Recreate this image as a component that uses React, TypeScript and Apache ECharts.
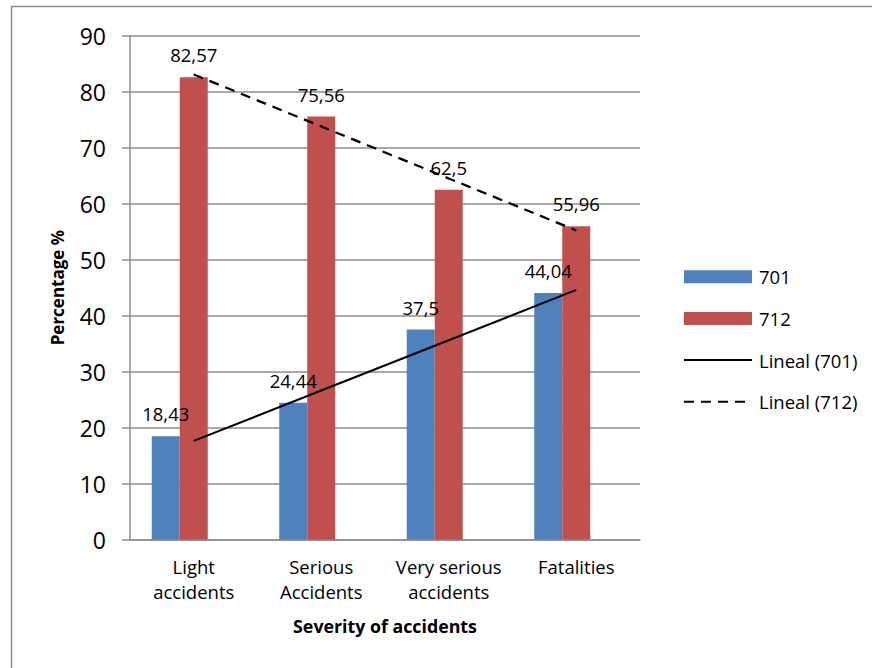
import React, { useEffect, useRef } from "react";
import * as echarts from "echarts";

const categories = [
  "Light\naccidents",
  "Serious\nAccidents",
  "Very serious\naccidents",
  "Fatalities",
];
const values701 = [18.43, 24.44, 37.5, 44.04];
const values712 = [82.57, 75.56, 62.5, 55.96];
const yMin = 0;
const yMax = 90;
const yStep = 10;

const seriesNames = ["701", "712", "Lineal (701)", "Lineal (712)"];
const colors = { s701: "#4F81BD", s712: "#C0504D", grid: "#8C8C8C", text: "#000000" };
const FONT = "'Open Sans', 'Noto Sans', sans-serif";

// Least-squares linear trend evaluated at each category position
function linearTrend(vals: number[]): number[] {
  const n = vals.length;
  const xs = vals.map((_, i) => i + 1);
  const mx = xs.reduce((a, b) => a + b, 0) / n;
  const my = vals.reduce((a, b) => a + b, 0) / n;
  let num = 0;
  let den = 0;
  for (let i = 0; i < n; i++) {
    num += (xs[i] - mx) * (vals[i] - my);
    den += (xs[i] - mx) * (xs[i] - mx);
  }
  const slope = num / den;
  return xs.map((x) => my + slope * (x - mx));
}

const fmtComma = (v: number) => String(v).replace(".", ",");

export default function App() {
  const ref = useRef<HTMLDivElement>(null);

  useEffect(() => {
    if (!ref.current) return;
    const chart = echarts.init(ref.current, undefined, { renderer: "svg" });

    const barLabel = {
      show: true,
      position: "top" as const,
      distance: 13,
      fontFamily: FONT,
      fontSize: 18.5,
      color: colors.text,
      formatter: (p: any) => fmtComma(p.value),
    };

    chart.setOption({
      animation: false,
      backgroundColor: "#ffffff",
      textStyle: { fontFamily: FONT },
      graphic: [
        {
          type: "rect",
          shape: { x: 11.5, y: 6.5, width: 900, height: 700 },
          style: { fill: "none", stroke: "#8C8C8C", lineWidth: 1.5 },
          silent: true,
          z: -10,
        },
      ],
      grid: { left: 130, right: 232, top: 35.7, bottom: 128.5, containLabel: false },
      legend: {
        data: [
          { name: seriesNames[0], icon: "rect" },
          { name: seriesNames[1], icon: "rect" },
          { name: seriesNames[2], itemStyle: { opacity: 0 } },
          { name: seriesNames[3], itemStyle: { opacity: 0 } },
        ],
        orient: "vertical",
        left: 683,
        top: 266.7,
        padding: 0,
        itemWidth: 68,
        itemHeight: 13,
        itemGap: 21.7,
        selectedMode: false,
        textStyle: { fontFamily: FONT, fontSize: 18.5, color: colors.text, lineHeight: 20, padding: [0, 0, 0, 2] },
      },
      xAxis: {
        type: "category",
        data: categories,
        name: "Severity of accidents",
        nameLocation: "middle",
        nameGap: 77,
        nameTextStyle: { fontFamily: FONT, fontSize: 17.8, fontWeight: "bold", color: colors.text },
        axisLine: { lineStyle: { color: colors.grid, width: 1.5 } },
        axisTick: { show: false },
        axisLabel: {
          fontFamily: FONT,
          fontSize: 18.5,
          lineHeight: 25,
          color: colors.text,
          margin: 14,
          interval: 0,
        },
      },
      yAxis: {
        type: "value",
        min: yMin,
        max: yMax,
        interval: yStep,
        name: "Percentage %",
        nameLocation: "middle",
        nameGap: 64,
        nameTextStyle: { fontFamily: FONT, fontSize: 17, fontWeight: "bold", color: colors.text },
        axisLine: { show: true, lineStyle: { color: colors.grid, width: 1.5 } },
        axisTick: { show: true, length: 8, lineStyle: { color: colors.grid, width: 1.5 } },
        axisLabel: { fontFamily: FONT, fontSize: 23, color: colors.text, margin: 24 },
        splitLine: { lineStyle: { color: colors.grid, width: 1.5 } },
      },
      series: [
        {
          name: seriesNames[0],
          type: "bar",
          data: values701,
          barWidth: 28,
          barGap: "0%",
          itemStyle: { color: colors.s701 },
          label: barLabel,
          z: 2,
        },
        {
          name: seriesNames[1],
          type: "bar",
          data: values712,
          barWidth: 28,
          barGap: "0%",
          itemStyle: { color: colors.s712 },
          label: barLabel,
          z: 2,
        },
        {
          // empty slot that keeps the bar pair off-centre within each category
          name: "_spacer",
          type: "bar",
          data: values701.map(() => null),
          barWidth: 28,
          barGap: "0%",
          silent: true,
        },
        {
          name: seriesNames[2],
          type: "line",
          data: linearTrend(values701),
          symbol: "none",
          lineStyle: { color: "#000000", width: 2, type: "solid" },
          itemStyle: { color: "#000000" },
          z: 5,
        },
        {
          name: seriesNames[3],
          type: "line",
          data: linearTrend(values712),
          symbol: "none",
          lineStyle: { color: "#000000", width: 2.25, type: [10, 7] },
          itemStyle: { color: "#000000" },
          z: 5,
        },
      ],
    });

    return () => chart.dispose();
  }, []);

  return (
    <div
      ref={ref}
      style={{ position: "fixed", left: 0, top: 0, width: 872, height: 668, background: "#fff" }}
    />
  );
}
